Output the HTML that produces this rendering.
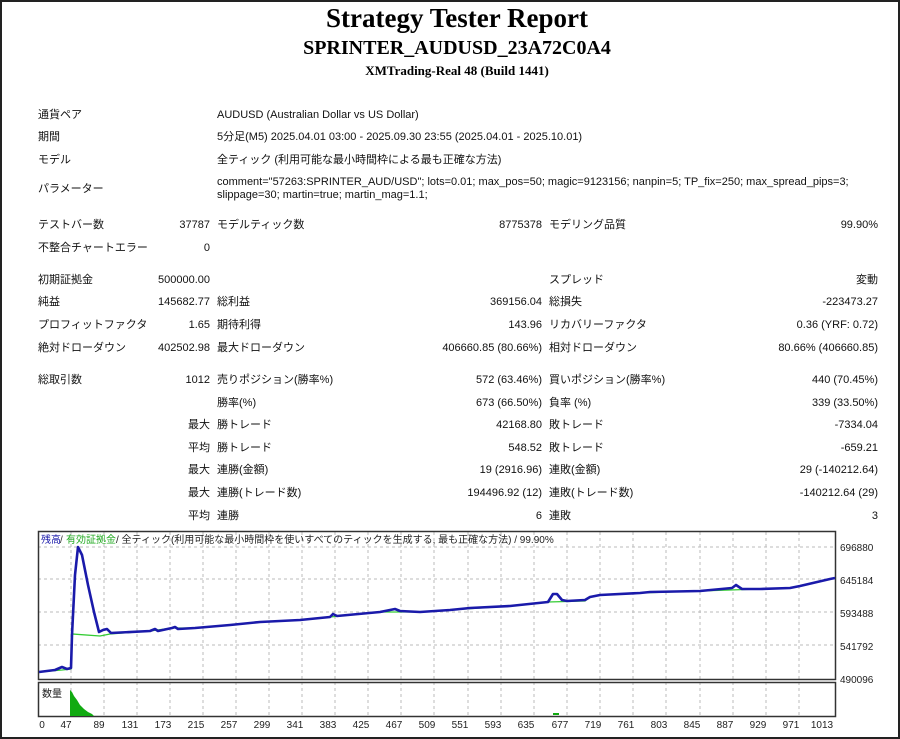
<!DOCTYPE html>
<html><head><meta charset="utf-8"><style>
*{margin:0;padding:0;box-sizing:border-box}
body{width:900px;height:739px;background:#fff;position:relative;overflow:hidden;font-family:"Liberation Sans","Noto Sans CJK JP",sans-serif;font-size:11px;color:#111}
#frame{position:absolute;left:0;top:0;width:900px;height:739px;border:2px solid #222}
.t{position:absolute;white-space:nowrap;line-height:13px}
.r{text-align:right}
.h{position:absolute;left:0;width:914px;text-align:center;font-family:"Liberation Serif",serif;font-weight:bold;color:#000}
</style></head><body>
<div id="frame"></div>
<div class="h" style="top:3px;font-size:27px">Strategy Tester Report</div>
<div class="h" style="top:37px;font-size:20px">SPRINTER_AUDUSD_23A72C0A4</div>
<div class="h" style="top:63px;font-size:13px">XMTrading-Real 48 (Build 1441)</div>

<div class="t" style="left:38px;top:109px">通貨ペア</div>
<div class="t" style="left:217px;top:109px">AUDUSD (Australian Dollar vs US Dollar)</div>
<div class="t" style="left:38px;top:131px">期間</div>
<div class="t" style="left:217px;top:131px">5分足(M5) 2025.04.01 03:00 - 2025.09.30 23:55 (2025.04.01 - 2025.10.01)</div>
<div class="t" style="left:38px;top:154px">モデル</div>
<div class="t" style="left:217px;top:154px">全ティック (利用可能な最小時間枠による最も正確な方法)</div>
<div class="t" style="left:38px;top:183px">パラメーター</div>
<div class="t" style="left:217px;top:176px">comment="57263:SPRINTER_AUD/USD"; lots=0.01; max_pos=50; magic=9123156; nanpin=5; TP_fix=250; max_spread_pips=3;</div>
<div class="t" style="left:217px;top:189px">slippage=30; martin=true; martin_mag=1.1;</div>

<div class="t" style="left:38px;top:219px">テストバー数</div>
<div class="t r" style="left:110px;width:100px;top:219px">37787</div>
<div class="t" style="left:217px;top:219px">モデルティック数</div>
<div class="t r" style="left:400px;width:142px;top:219px">8775378</div>
<div class="t" style="left:549px;top:219px">モデリング品質</div>
<div class="t r" style="left:700px;width:178px;top:219px">99.90%</div>
<div class="t" style="left:38px;top:242px">不整合チャートエラー</div>
<div class="t r" style="left:110px;width:100px;top:242px">0</div>

<div class="t" style="left:38px;top:274px">初期証拠金</div>
<div class="t r" style="left:110px;width:100px;top:274px">500000.00</div>
<div class="t" style="left:549px;top:274px">スプレッド</div>
<div class="t r" style="left:700px;width:178px;top:274px">変動</div>

<div class="t" style="left:38px;top:296px">純益</div>
<div class="t r" style="left:110px;width:100px;top:296px">145682.77</div>
<div class="t" style="left:217px;top:296px">総利益</div>
<div class="t r" style="left:400px;width:142px;top:296px">369156.04</div>
<div class="t" style="left:549px;top:296px">総損失</div>
<div class="t r" style="left:700px;width:178px;top:296px">-223473.27</div>

<div class="t" style="left:38px;top:319px">プロフィットファクタ</div>
<div class="t r" style="left:110px;width:100px;top:319px">1.65</div>
<div class="t" style="left:217px;top:319px">期待利得</div>
<div class="t r" style="left:400px;width:142px;top:319px">143.96</div>
<div class="t" style="left:549px;top:319px">リカバリーファクタ</div>
<div class="t r" style="left:700px;width:178px;top:319px">0.36 (YRF: 0.72)</div>

<div class="t" style="left:38px;top:342px">絶対ドローダウン</div>
<div class="t r" style="left:110px;width:100px;top:342px">402502.98</div>
<div class="t" style="left:217px;top:342px">最大ドローダウン</div>
<div class="t r" style="left:380px;width:162px;top:342px">406660.85 (80.66%)</div>
<div class="t" style="left:549px;top:342px">相対ドローダウン</div>
<div class="t r" style="left:700px;width:178px;top:342px">80.66% (406660.85)</div>

<div class="t" style="left:38px;top:374px">総取引数</div>
<div class="t r" style="left:110px;width:100px;top:374px">1012</div>
<div class="t" style="left:217px;top:374px">売りポジション(勝率%)</div>
<div class="t r" style="left:400px;width:142px;top:374px">572 (63.46%)</div>
<div class="t" style="left:549px;top:374px">買いポジション(勝率%)</div>
<div class="t r" style="left:700px;width:178px;top:374px">440 (70.45%)</div>

<div class="t" style="left:217px;top:397px">勝率(%)</div>
<div class="t r" style="left:400px;width:142px;top:397px">673 (66.50%)</div>
<div class="t" style="left:549px;top:397px">負率 (%)</div>
<div class="t r" style="left:700px;width:178px;top:397px">339 (33.50%)</div>

<div class="t r" style="left:110px;width:100px;top:419px">最大</div>
<div class="t" style="left:217px;top:419px">勝トレード</div>
<div class="t r" style="left:400px;width:142px;top:419px">42168.80</div>
<div class="t" style="left:549px;top:419px">敗トレード</div>
<div class="t r" style="left:700px;width:178px;top:419px">-7334.04</div>

<div class="t r" style="left:110px;width:100px;top:442px">平均</div>
<div class="t" style="left:217px;top:442px">勝トレード</div>
<div class="t r" style="left:400px;width:142px;top:442px">548.52</div>
<div class="t" style="left:549px;top:442px">敗トレード</div>
<div class="t r" style="left:700px;width:178px;top:442px">-659.21</div>

<div class="t r" style="left:110px;width:100px;top:464px">最大</div>
<div class="t" style="left:217px;top:464px">連勝(金額)</div>
<div class="t r" style="left:400px;width:142px;top:464px">19 (2916.96)</div>
<div class="t" style="left:549px;top:464px">連敗(金額)</div>
<div class="t r" style="left:700px;width:178px;top:464px">29 (-140212.64)</div>

<div class="t r" style="left:110px;width:100px;top:487px">最大</div>
<div class="t" style="left:217px;top:487px">連勝(トレード数)</div>
<div class="t r" style="left:400px;width:142px;top:487px">194496.92 (12)</div>
<div class="t" style="left:549px;top:487px">連敗(トレード数)</div>
<div class="t r" style="left:700px;width:178px;top:487px">-140212.64 (29)</div>

<div class="t r" style="left:110px;width:100px;top:510px">平均</div>
<div class="t" style="left:217px;top:510px">連勝</div>
<div class="t r" style="left:400px;width:142px;top:510px">6</div>
<div class="t" style="left:549px;top:510px">連敗</div>
<div class="t r" style="left:700px;width:178px;top:510px">3</div>

<svg style="position:absolute;left:0;top:0" width="900" height="739" font-family="Liberation Sans, Noto Sans CJK JP, sans-serif" font-size="10">
<g stroke="#bbb" stroke-dasharray="3,3" stroke-width="1">
<line x1="38" y1="579" x2="835" y2="579"/><line x1="38" y1="612" x2="835" y2="612"/><line x1="38" y1="645" x2="835" y2="645"/>
<line x1="38" y1="547" x2="835" y2="547"/>
</g>
<g stroke="#bbb" stroke-dasharray="3,3" stroke-width="1">
<line x1="71" y1="532" x2="71" y2="716"/><line x1="104" y1="532" x2="104" y2="716"/><line x1="137" y1="532" x2="137" y2="716"/><line x1="170" y1="532" x2="170" y2="716"/><line x1="203" y1="532" x2="203" y2="716"/><line x1="236" y1="532" x2="236" y2="716"/><line x1="269" y1="532" x2="269" y2="716"/><line x1="302" y1="532" x2="302" y2="716"/><line x1="335" y1="532" x2="335" y2="716"/><line x1="368" y1="532" x2="368" y2="716"/><line x1="401" y1="532" x2="401" y2="716"/><line x1="434" y1="532" x2="434" y2="716"/><line x1="468" y1="532" x2="468" y2="716"/><line x1="501" y1="532" x2="501" y2="716"/><line x1="534" y1="532" x2="534" y2="716"/><line x1="567" y1="532" x2="567" y2="716"/><line x1="600" y1="532" x2="600" y2="716"/><line x1="633" y1="532" x2="633" y2="716"/><line x1="666" y1="532" x2="666" y2="716"/><line x1="700" y1="532" x2="700" y2="716"/><line x1="733" y1="532" x2="733" y2="716"/><line x1="766" y1="532" x2="766" y2="716"/><line x1="799" y1="532" x2="799" y2="716"/>
</g>
<rect x="38.5" y="531.5" width="797" height="148" fill="none" stroke="#333" stroke-width="1.5"/>
<rect x="38.5" y="682.5" width="797" height="34" fill="none" stroke="#333" stroke-width="1.5"/>
<polyline fill="none" stroke="#3c3" stroke-width="1.3" points="39,672 62,670 71,669 72,634 100,636 110,634 150,631 172,628 195,628 230,625 260,622 300,620 330,617 380,612 420,612 450,610 510,606 548,602 585,601 590,597 600,595 640,593 700,591 760,589 790,588 800,586 830,579 835,578"/>
<polyline fill="none" stroke="#1a1aaa" stroke-width="2.6" stroke-linejoin="round" points="39,672 55,670 62,667 67,669 71,668 72,635 75,575 78,547 82,555 88,585 94,612 99,632 103,630 107,629 111,633 150,631 155,629 158,631 172,628 175,627 178,629 195,628 230,625 260,622 300,620 330,617 333,614 337,616 380,612 395,609 400,611 420,612 450,610 470,608 510,606 548,602 553,594 557,594 562,600 567,601 585,600 590,597 600,595 640,593 650,592 700,591 732,588 736,585 742,589 760,589 790,588 800,586 830,579 835,578"/>
<path d="M70,716 L70,690 L72,692 L74,696 L77,700 L80,705 L84,709 L88,712 L92,714 L94,716 Z" fill="#1a1"/>
<rect x="553" y="713" width="6" height="2" fill="#1a1"/>
<text x="41" y="543" fill="#1a1aaa">残高</text><text x="60" y="543" fill="#333">/</text>
<text x="66" y="543" fill="#2a2">有効証拠金</text><text x="116" y="543" fill="#222">/ 全ティック(利用可能な最小時間枠を使いすべてのティックを生成する, 最も正確な方法) / 99.90%</text>
<text x="42" y="697" fill="#222">数量</text>
<g fill="#222">
<text x="840" y="551">696880</text><text x="840" y="584">645184</text><text x="840" y="617">593488</text><text x="840" y="650">541792</text><text x="840" y="683">490096</text>
</g>
<g fill="#222" text-anchor="middle">
<text x="42" y="728">0</text><text x="66" y="728">47</text><text x="99" y="728">89</text><text x="130" y="728">131</text><text x="163" y="728">173</text><text x="196" y="728">215</text><text x="229" y="728">257</text><text x="262" y="728">299</text><text x="295" y="728">341</text><text x="328" y="728">383</text><text x="361" y="728">425</text><text x="394" y="728">467</text><text x="427" y="728">509</text><text x="460" y="728">551</text><text x="493" y="728">593</text><text x="526" y="728">635</text><text x="560" y="728">677</text><text x="593" y="728">719</text><text x="626" y="728">761</text><text x="659" y="728">803</text><text x="692" y="728">845</text><text x="725" y="728">887</text><text x="758" y="728">929</text><text x="791" y="728">971</text><text x="822" y="728">1013</text>
</g>
</svg>
</body></html>
